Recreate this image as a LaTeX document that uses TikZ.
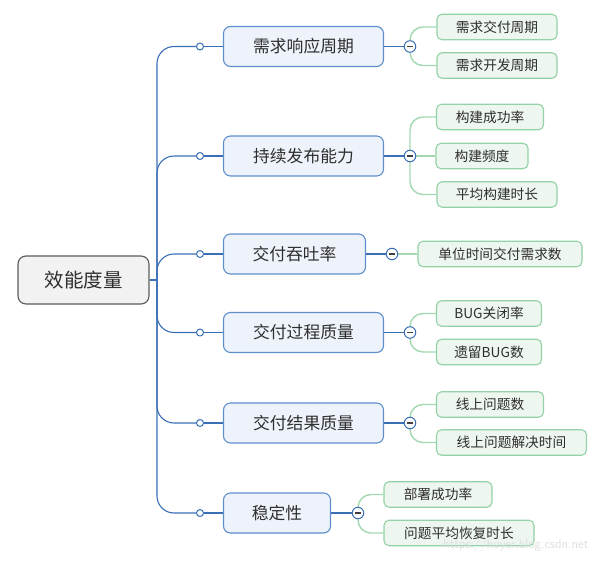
\documentclass[tikz,border=0pt]{standalone}
\usepackage{fontspec}
\setmainfont{Noto Sans CJK SC}
\usetikzlibrary{backgrounds}
\definecolor{l1border}{HTML}{5E8FCB}
\definecolor{l1fill}{HTML}{EEF3FB}
\definecolor{bline}{HTML}{3A6FB5}
\definecolor{l2border}{HTML}{93D2A6}
\definecolor{l2fill}{HTML}{EEF6F0}
\definecolor{gline}{HTML}{A3D8B0}
\definecolor{rootborder}{HTML}{5A5A5A}
\definecolor{rootfill}{HTML}{F2F2F2}
\definecolor{txt}{HTML}{2E2E2E}
\tikzset{
  rootbox/.style={draw=rootborder, fill=rootfill, line width=1.1pt, rounded corners=8pt,
    minimum width=131pt, minimum height=48pt, text=txt, font=\fontsize{19.5}{22}\selectfont},
  topicbox/.style={draw=l1border, fill=l1fill, line width=1.1pt, rounded corners=7pt,
    minimum height=40pt, text=txt, font=\fontsize{16.8}{19}\selectfont},
  subbox/.style={draw=l2border, fill=l2fill, line width=1.1pt, rounded corners=5pt,
    minimum height=25.5pt, text=txt, font=\fontsize{13.7}{16}\selectfont},
  blueln/.style={draw=bline, line width=1.1pt},
  greenln/.style={draw=gline, line width=1.4pt},
  knob/.style={circle, draw=bline, fill=white, line width=1pt, minimum size=7pt, inner sep=0pt},
  collapse/.style={circle, draw=bline, fill=white, line width=1pt, minimum size=11.5pt, inner sep=0pt,
    path picture={\draw[line width=1.3pt, black!75] ([xshift=-3pt]path picture bounding box.center) -- ([xshift=3pt]path picture bounding box.center);}},
}
\begin{document}
\begin{tikzpicture}[x=1pt, y=-1pt]
\useasboundingbox (0,0) rectangle (599,561);
% root
\node[rootbox] (root) at (83.5,280) {效能度量};
\coordinate (trunk) at (157,280);
% level 1
\node[topicbox, minimum width=160pt] (a1) at (303.5,46.5) {需求响应周期};
\node[topicbox, minimum width=160pt] (a2) at (303.5,156) {持续发布能力};
\node[topicbox, minimum width=142pt] (a3) at (294.5,254) {交付吞吐率};
\node[topicbox, minimum width=160pt] (a4) at (303.5,332.5) {交付过程质量};
\node[topicbox, minimum width=160pt] (a5) at (303.5,423) {交付结果质量};
\node[topicbox, minimum width=107pt] (a6) at (277,513) {稳定性};
% knobs
\node[knob] (k1) at (200,46.5) {};
\node[knob] (k2) at (200,156) {};
\node[knob] (k3) at (200,254) {};
\node[knob] (k4) at (200,332.5) {};
\node[knob] (k5) at (200,423) {};
\node[knob] (k6) at (200,513) {};
% collapse
\node[collapse] (m1) at (410,46.5) {};
\node[collapse] (m2) at (410,156) {};
\node[collapse] (m3) at (392,254) {};
\node[collapse] (m4) at (410,332.5) {};
\node[collapse] (m5) at (410,423) {};
\node[collapse] (m6) at (358,513) {};
% level 2
\node[subbox, minimum width=120pt] (b11) at (497,27) {需求交付周期};
\node[subbox, minimum width=120pt] (b12) at (497,65.5) {需求开发周期};
\node[subbox, minimum width=107pt] (b21) at (490,117) {构建成功率};
\node[subbox, minimum width=92pt] (b22) at (482,156) {构建频度};
\node[subbox, minimum width=120pt] (b23) at (497,194.5) {平均构建时长};
\node[subbox, minimum width=164pt] (b31) at (500,254) {单位时间交付需求数};
\node[subbox, minimum width=105pt] (b41) at (489,313.5) {BUG关闭率};
\node[subbox, minimum width=105pt] (b42) at (489,352) {遗留BUG数};
\node[subbox, minimum width=107pt] (b51) at (490,404.5) {线上问题数};
\node[subbox, minimum width=150pt] (b52) at (511.5,442.5) {线上问题解决时间};
\node[subbox, minimum width=108pt] (b61) at (438,494.5) {部署成功率};
\node[subbox, minimum width=150pt] (b62) at (459,533) {问题平均恢复时长};
% watermark
\node[text=black!13, font=\fontsize{13}{15}\selectfont\sffamily, anchor=east] (wm) at (592,545) {https://huyer.blog.csdn.net};
\begin{pgfonlayer}{background}
\draw[blueln] (root.east) -- (trunk);
\foreach \k in {k1,k2,k3,k4,k5,k6}{
  \draw[blueln, rounded corners=17pt] (trunk) -- (trunk|-\k) -- (\k.center);
}
\foreach \k/\a in {k1/a1,k2/a2,k3/a3,k4/a4,k5/a5,k6/a6}{
  \draw[blueln] (\k) -- (\a.west);
}
\foreach \a/\m in {a1/m1,a2/m2,a3/m3,a4/m4,a5/m5,a6/m6}{
  \draw[blueln] (\a.east) -- (\m);
}
\foreach \m/\b in {m1/b11,m1/b12,m2/b21,m2/b23,m4/b41,m4/b42,m5/b51,m5/b52,m6/b61,m6/b62}{
  \draw[greenln, rounded corners=13pt] (\m.center) -- (\m.center|-\b) -- (\b.west);
}
\draw[greenln] (m2) -- (b22.west);
\draw[greenln] (m3) -- (b31.west);
\end{pgfonlayer}
\end{tikzpicture}
\end{document}
